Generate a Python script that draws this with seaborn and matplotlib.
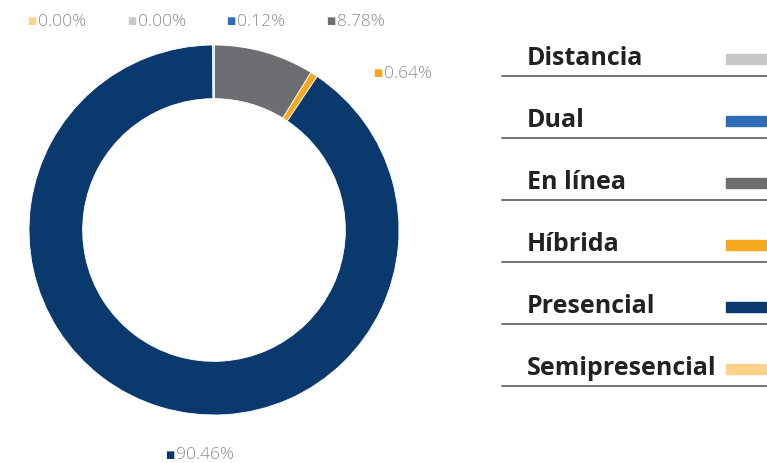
import numpy as np
import matplotlib
matplotlib.use("Agg")
import matplotlib.pyplot as plt
import seaborn as sns

# data (clockwise from 12 o'clock)
modalidades = ["En línea", "Híbrida", "Presencial", "Dual", "Distancia", "Semipresencial"]
porcentajes = [8.78, 0.64, 90.46, 0.12, 0.00, 0.00]
colores = ["#6d6e71", "#f6a71e", "#0a3a6d", "#2e6db5", "#c8c8c8", "#fdd38c"]

legend_order = ["Distancia", "Dual", "En línea", "Híbrida", "Presencial", "Semipresencial"]

sns.set_theme(style="white")
plt.rcParams["font.family"] = ["Open Sans", "DejaVu Sans"]

W, H = 767, 464
fig = plt.figure(figsize=(W / 100, H / 100), dpi=100)
fig.patch.set_facecolor("white")

# donut
cx, cy, r = 214, 231, 185
ax = fig.add_axes([(cx - r) / W, (H - cy - r) / H, 2 * r / W, 2 * r / H])
ax.pie(porcentajes, colors=colores, startangle=90, counterclock=False,
       radius=1.0, wedgeprops=dict(width=0.29, edgecolor="white", linewidth=0.6))
ax.set_xlim(-1, 1)
ax.set_ylim(-1, 1)
ax.set_aspect("equal")
ax.axis("off")

# data labels (pixel positions of the marker square)
color_of = dict(zip(modalidades, colores))
pct_of = dict(zip(modalidades, porcentajes))
label_pos = {
    "Semipresencial": (32, 21),
    "Distancia": (132, 21),
    "Dual": (231, 21),
    "En línea": (331, 21),
    "Híbrida": (378, 73),
    "Presencial": (170, 455),
}
for name, (px, py) in label_pos.items():
    fig.text(px / W, 1 - py / H, "■", color=color_of[name], fontsize=7,
             ha="center", va="center", family=["DejaVu Sans"])
    fig.text((px + 6) / W, 1 - (py + 0.5) / H, f"{pct_of[name]:.2f}%", color="#8c8c8c",
             fontsize=12.5, fontweight="light", ha="left", va="center")

# legend panel
lines_y = [77, 139, 201, 263, 325, 387]
for name, ly in zip(legend_order, lines_y):
    fig.text(527 / W, 1 - (ly - 12) / H, name, color="#222222", fontsize=18,
             fontweight="bold", ha="left", va="baseline")
    fig.patches.append(plt.Rectangle((726 / W, 1 - (ly - 12) / H), 40 / W, 10 / H,
                                     transform=fig.transFigure, color=color_of[name],
                                     figure=fig))
    fig.add_artist(plt.Line2D([502 / W, 767 / W], [1 - ly / H, 1 - ly / H],
                              transform=fig.transFigure, color="#666666", lw=1.3))

fig.savefig("out.png", dpi=100, facecolor="white")
